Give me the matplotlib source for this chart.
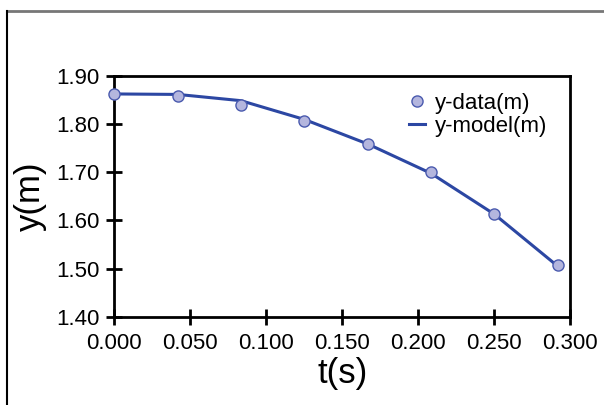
import matplotlib
matplotlib.use("Agg")
import matplotlib.pyplot as plt
from matplotlib.lines import Line2D

plt.rcParams['font.family'] = ['Liberation Sans', 'DejaVu Sans']

# time steps and measured / modelled heights
t = [0.0, 0.0417, 0.0833, 0.125, 0.1667, 0.2083, 0.25, 0.2917]
y_data = [1.862, 1.858, 1.839, 1.807, 1.759, 1.700, 1.614, 1.507]
y_model = [1.863, 1.862, 1.849, 1.810, 1.759, 1.698, 1.613, 1.505]

xticks = [0.0, 0.05, 0.1, 0.15, 0.2, 0.25, 0.3]
yticks = [1.4, 1.5, 1.6, 1.7, 1.8, 1.9]

lineCol = "#2c47a3"
fillCol = "#b4b6de"
edgeCol = "#4a5aae"

fig = plt.figure(figsize=(6.04, 4.05), dpi=100)
ax = fig.add_axes([0.1893, 0.218, 0.7550, 0.594])

ax.plot(t, y_model, color=lineCol, lw=2.2, zorder=2)
ax.plot(t, y_data, 'o', ms=8, mfc=fillCol, mec=edgeCol, mew=1.0, zorder=3, clip_on=False)

ax.set_xlim(0, 0.3)
ax.set_ylim(1.4, 1.9)
ax.set_xticks(xticks)
ax.set_xticklabels(["%.3f" % v for v in xticks])
ax.set_yticks(yticks)
ax.set_yticklabels(["%.2f" % v for v in yticks])
ax.tick_params(direction='inout', length=11, width=2, labelsize=16)
ax.tick_params(axis='y', pad=5)
ax.tick_params(axis='x', pad=6.5)
for s in ax.spines.values():
    s.set_linewidth(2)

ax.set_xlabel("t(s)", fontsize=25, labelpad=2)
ax.set_ylabel("y(m)", fontsize=25, labelpad=7)

handles = [Line2D([], [], ls='none', marker='o', ms=8, mfc=fillCol, mec=edgeCol, mew=1.0),
           Line2D([], [], color=lineCol, lw=2.2)]
ax.legend(handles, ["y-data(m)", "y-model(m)"], loc='upper left', frameon=False,
          fontsize=16, handlelength=0.7, handletextpad=0.45, labelspacing=0.1,
          borderpad=0, borderaxespad=0, bbox_to_anchor=(0.647, 0.93))

# outer frame (cropped at right/bottom)
fig.add_artist(Line2D([7/604, 1.0], [1-11/405, 1-11/405], color='#777777', lw=2))
fig.add_artist(Line2D([7/604, 7/604], [0.0, 1-11/405], color='black', lw=1.5))

fig.savefig("out.png", dpi=100)
